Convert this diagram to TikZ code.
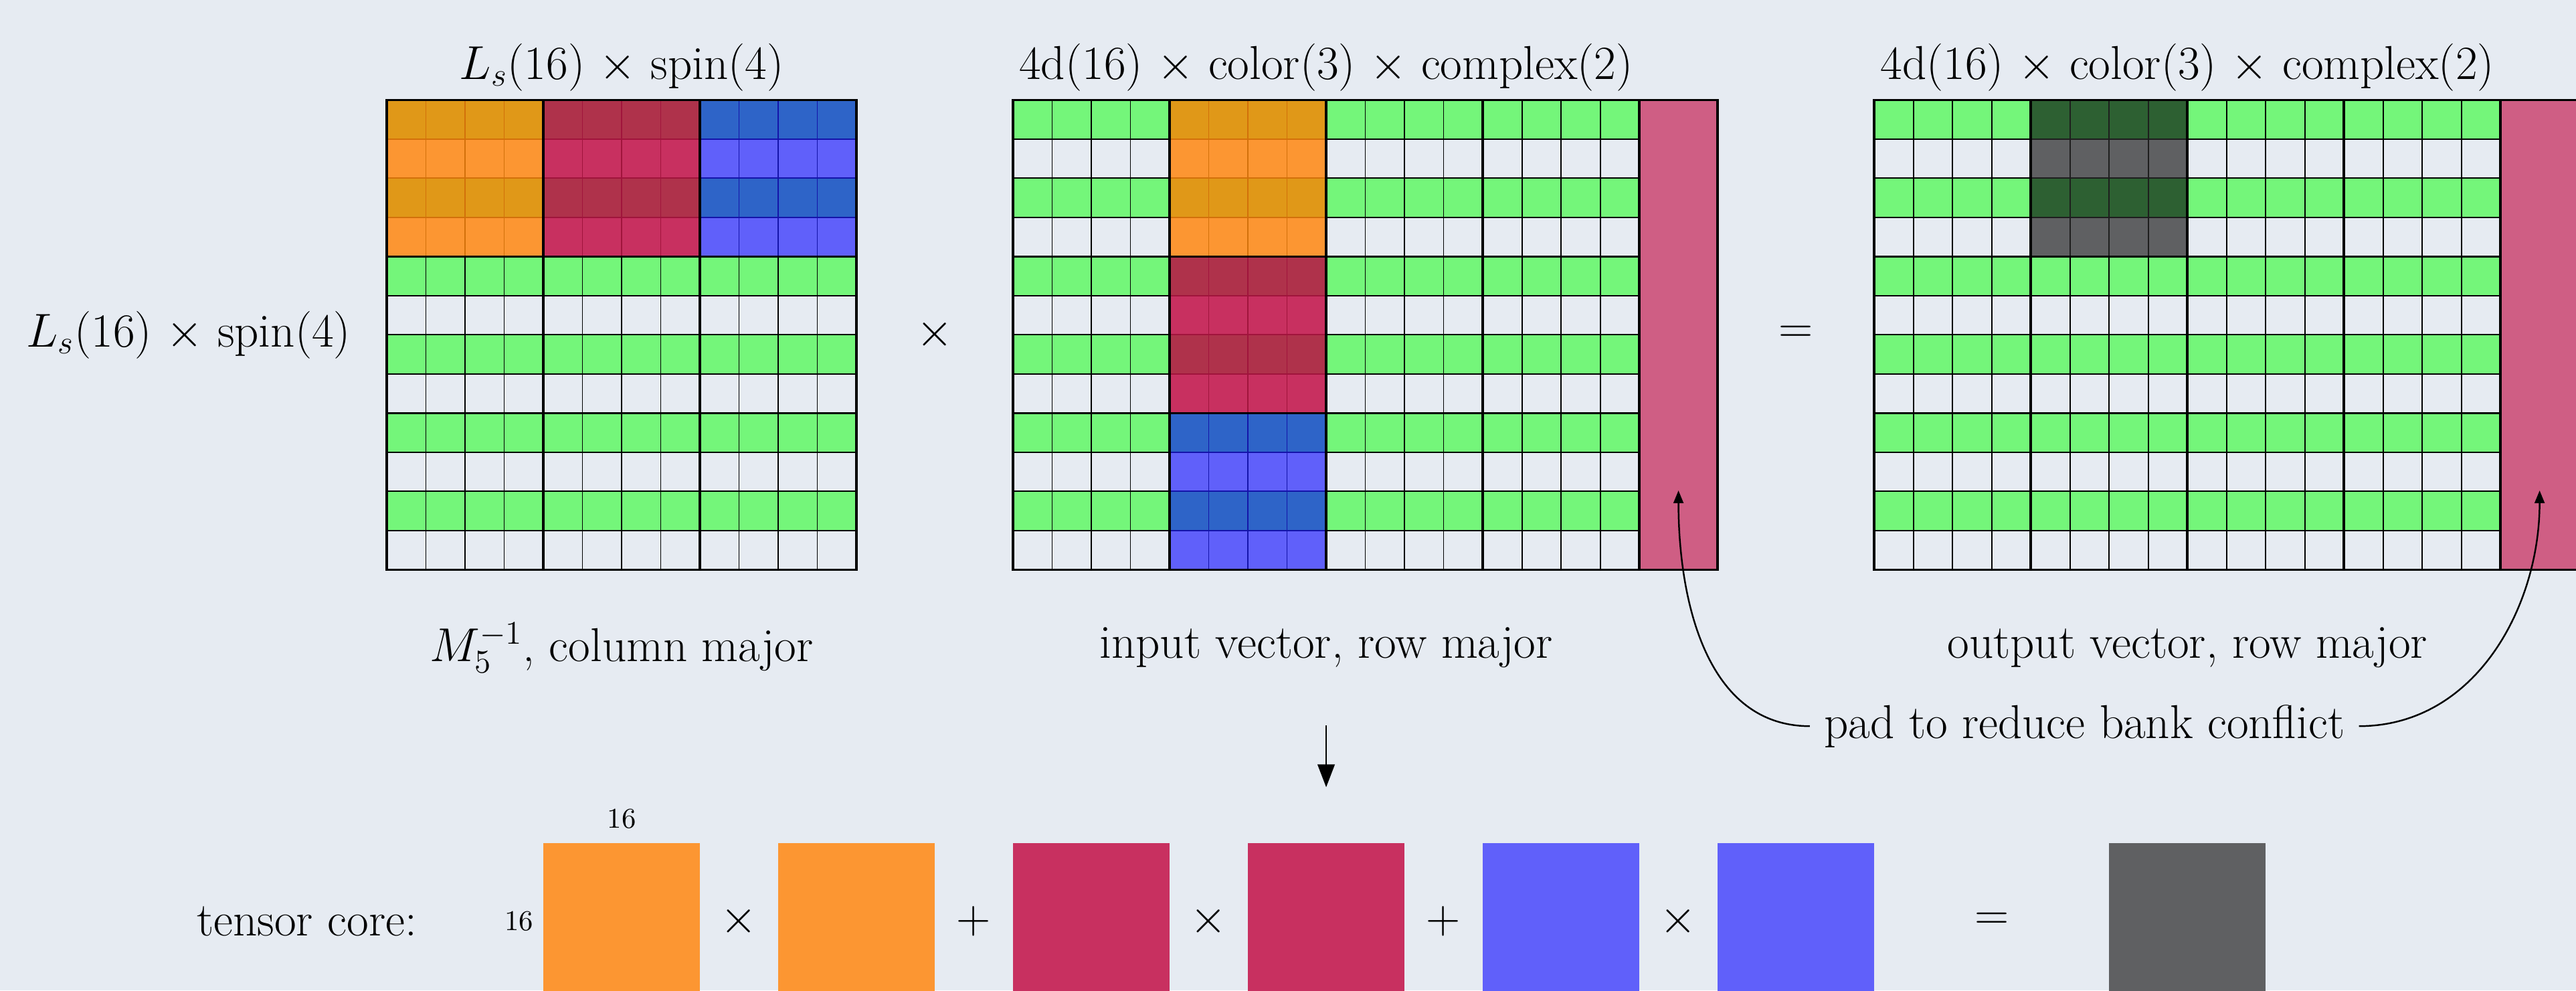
\documentclass[tikz,border=0pt]{standalone}
\usetikzlibrary{arrows.meta}

% palette: *0 = even (shaded) rows, *1 = odd rows, *E = cell lines inside a block
\definecolor{bgc}{HTML}{E6EBF2}
\definecolor{gr0}{HTML}{74F67A}
\definecolor{gr1}{HTML}{E6EBF2}
\definecolor{or0}{HTML}{E09818}
\definecolor{or1}{HTML}{FC9632}
\definecolor{orE}{HTML}{D2700A}
\definecolor{rd0}{HTML}{AF324B}
\definecolor{rd1}{HTML}{C83060}
\definecolor{rdE}{HTML}{A0143C}
\definecolor{bl0}{HTML}{2E64C8}
\definecolor{bl1}{HTML}{6060FA}
\definecolor{blE}{HTML}{1414AA}
\definecolor{gy0}{HTML}{2D6032}
\definecolor{gy1}{HTML}{5F6062}
\definecolor{gyE}{HTML}{1E1E1E}
\definecolor{padc}{HTML}{CF5E84}

\begin{document}
\begin{tikzpicture}[x=0.5cm,y=0.5cm,
  cellline/.style={line width=0.45pt},
  blockline/.style={line width=0.8pt, draw=black},
  lbl/.style={inner sep=0pt, font=\LARGE},
  smalllbl/.style={inner sep=0pt, font=\fontsize{10.4}{12}\selectfont},
  tcsq/.style={rectangle, minimum size=2cm, inner sep=0pt, outer sep=0pt, draw=none},
  padarrow/.style={-{Stealth[inset=0pt,length=4.6pt,width=3.6pt]}, line width=0.6pt},
  downarrow/.style={-{Stealth[inset=0pt,length=8.3pt,width=6.2pt]}, line width=0.65pt}]

\useasboundingbox (0,0) rectangle (65.81,-25.30);
\clip (0,0) rectangle (65.81,-25.30);
\fill[bgc] (0,0) rectangle (65.81,-25.30);

% ---------- M5^{-1}, column major (12 x 12) ----------
\begin{scope}[shift={(9.88,-2.55)}]
  \foreach \rr in {0,...,11}{
    \foreach \cc in {0,...,11}{
      \pgfmathtruncatemacro\rp{mod(\rr,2)}
      \pgfmathtruncatemacro\blk{\cc/4}
      \ifnum\rr<4
        \ifcase\blk\relax\def\hue{or}\or\def\hue{rd}\or\def\hue{bl}\fi
        \edef\fc{\hue\rp}\edef\lc{\hue E}
      \else
        \edef\fc{gr\rp}\def\lc{black}
      \fi
      \filldraw[cellline, fill=\fc, draw=\lc] (\cc,-\rr) rectangle ++(1,-1);
    }
  }
  \foreach \k in {4,8} \draw[blockline] (\k,0) -- (\k,-12);
  \foreach \k in {4,8} \draw[blockline] (0,-\k) -- (12,-\k);
  \draw[blockline] (0,0) rectangle (12,-12);
\end{scope}

% ---------- input vector, row major (12 x 16 + pad) ----------
\begin{scope}[shift={(25.88,-2.55)}]
  \foreach \rr in {0,...,11}{
    \foreach \cc in {0,...,15}{
      \pgfmathtruncatemacro\rp{mod(\rr,2)}
      \pgfmathtruncatemacro\blk{\cc/4}
      \pgfmathtruncatemacro\rb{\rr/4}
      \ifnum\blk=1
        \ifcase\rb\relax\def\hue{or}\or\def\hue{rd}\or\def\hue{bl}\fi
        \edef\fc{\hue\rp}\edef\lc{\hue E}
      \else
        \edef\fc{gr\rp}\def\lc{black}
      \fi
      \filldraw[cellline, fill=\fc, draw=\lc] (\cc,-\rr) rectangle ++(1,-1);
    }
  }
  \filldraw[blockline, fill=padc] (16,0) rectangle (18,-12);
  \coordinate (padIn) at (17,-9.98);
  \foreach \k in {4,8,12,16} \draw[blockline] (\k,0) -- (\k,-12);
  \foreach \k in {4,8} \draw[blockline] (0,-\k) -- (16,-\k);
  \draw[blockline] (0,0) rectangle (18,-12);
\end{scope}

% ---------- output vector, row major (12 x 16 + pad) ----------
\begin{scope}[shift={(47.88,-2.55)}]
  \foreach \rr in {0,...,11}{
    \foreach \cc in {0,...,15}{
      \pgfmathtruncatemacro\rp{mod(\rr,2)}
      \pgfmathtruncatemacro\hit{(\cc>3)&&(\cc<8)&&(\rr<4)}
      \ifnum\hit=1
        \edef\fc{gy\rp}\def\lc{gyE}
      \else
        \edef\fc{gr\rp}\def\lc{black}
      \fi
      \filldraw[cellline, fill=\fc, draw=\lc] (\cc,-\rr) rectangle ++(1,-1);
    }
  }
  \filldraw[blockline, fill=padc] (16,0) rectangle (18,-12);
  \coordinate (padOut) at (17,-9.98);
  \foreach \k in {4,8,12,16} \draw[blockline] (\k,0) -- (\k,-12);
  \foreach \k in {4,8} \draw[blockline] (0,-\k) -- (16,-\k);
  \draw[blockline] (0,0) rectangle (18,-12);
\end{scope}

% ---------- labels ----------
\node[lbl, anchor=base] (topA) at (15.88,-2.02) {$L_s(16)$ $\times$ spin(4)};
\node[lbl, anchor=base] (topB) at (33.88,-2.02) {4d(16) $\times$ color(3) $\times$ complex(2)};
\node[lbl, anchor=base] (topC) at (55.88,-2.02) {4d(16) $\times$ color(3) $\times$ complex(2)};
\node[lbl, anchor=base east] (leftA) at (8.97,-8.86) {$L_s(16)$ $\times$ spin(4)};
\node[lbl] (mulA) at (23.88,-8.55) {$\times$};
\node[lbl] (eqA) at (45.88,-8.55) {$=$};
\node[lbl, anchor=base] (botA) at (15.88,-16.89) {$M_5^{-1}$, column major};
\node[lbl, anchor=base] (botB) at (33.88,-16.81) {input vector, row major};
\node[lbl, anchor=base] (botC) at (55.88,-16.81) {output vector, row major};
\node[lbl, inner xsep=5pt] (padtxt) at (53.25,-18.55) {pad to reduce bank conflict};

\draw[padarrow] (padtxt.west) to[out=180,in=-90] (padIn);
\draw[padarrow] (padtxt.east) to[out=0,in=-90] (padOut);

% ---------- tensor core ----------
\coordinate (dnS) at (33.88,-18.53);
\coordinate (dnE) at (33.88,-20.11);
\draw[downarrow] (dnS) -- (dnE);

\node[lbl, anchor=base east] (tclbl) at (10.66,-23.91) {tensor core:};
\node[tcsq, fill=or1] (tcA) at (15.88,-23.54) {};
\node[tcsq, fill=or1] (tcB) at (21.88,-23.54) {};
\node[tcsq, fill=rd1] (tcC) at (27.88,-23.54) {};
\node[tcsq, fill=rd1] (tcD) at (33.88,-23.54) {};
\node[tcsq, fill=bl1] (tcE) at (39.88,-23.54) {};
\node[tcsq, fill=bl1] (tcF) at (45.88,-23.54) {};
\node[tcsq, fill=gy1] (tcG) at (55.88,-23.54) {};
\node[smalllbl, anchor=base] (dimTop) at (15.88,-21.16) {16};
\node[smalllbl, anchor=base east] (dimLeft) at (13.64,-23.77) {16};
\node[lbl] (opA) at (18.88,-23.54) {$\times$};
\node[lbl] (opB) at (24.88,-23.54) {$+$};
\node[lbl] (opC) at (30.88,-23.54) {$\times$};
\node[lbl] (opD) at (36.88,-23.54) {$+$};
\node[lbl] (opE) at (42.88,-23.54) {$\times$};
\node[lbl] (opF) at (50.88,-23.54) {$=$};
\end{tikzpicture}
\end{document}
